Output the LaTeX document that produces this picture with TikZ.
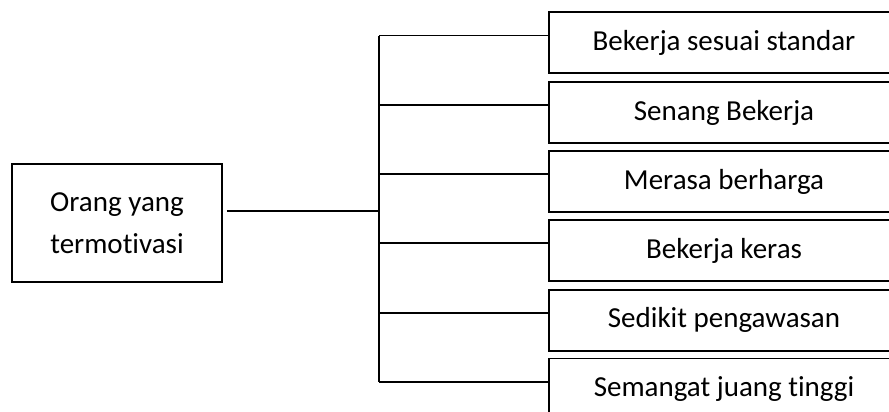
\documentclass[tikz,border=0pt]{standalone}
\usepackage{fontspec}
\setmainfont{Carlito}[Ligatures=NoCommon]
\begin{document}
\begin{tikzpicture}[x=1pt,y=-1pt,
  ln/.style={line width=1.6pt, black},
  rbox/.style={draw, line width=1.6pt, minimum width=350pt, minimum height=61pt, inner sep=0pt,
    font=\fontsize{29}{34}\selectfont},
  lbox/.style={draw, line width=1.6pt, minimum width=210pt, minimum height=118pt, inner sep=0pt,
    align=center, font=\fontsize{29}{42}\selectfont}]
\useasboundingbox (0,0) rectangle (889,412);
\clip (0,0) rectangle (889,412);
\fill[white] (0,0) rectangle (889,412);
\node[lbox] (src) at (117,223) {Orang yang\\termotivasi};
\node[rbox] (b1) at (724,42.5) {Bekerja sesuai standar};
\node[rbox] (b2) at (724,112.5) {Senang Bekerja};
\node[rbox] (b3) at (724,181.5) {Merasa berharga};
\node[rbox] (b4) at (724,250.5) {Bekerja keras};
\node[rbox] (b5) at (724,320.3) {Sedikit pengawasan};
\node[rbox] (b6) at (724,389) {Semangat juang tinggi};
\coordinate (j) at (379,210.7);
\coordinate (t1) at (379,35.7);
\coordinate (t2) at (379,105);
\coordinate (t3) at (379,174);
\coordinate (t4) at (379,242.7);
\coordinate (t5) at (379,313);
\coordinate (t6) at (379,381.7);
\draw[ln] ([xshift=4pt]src.east |- j) -- (j);
\draw[ln] (t1) -- (t6);
\foreach \i in {1,...,6}{
  \draw[ln] (t\i) -- (t\i -| b\i.west);
}
\end{tikzpicture}
\end{document}
